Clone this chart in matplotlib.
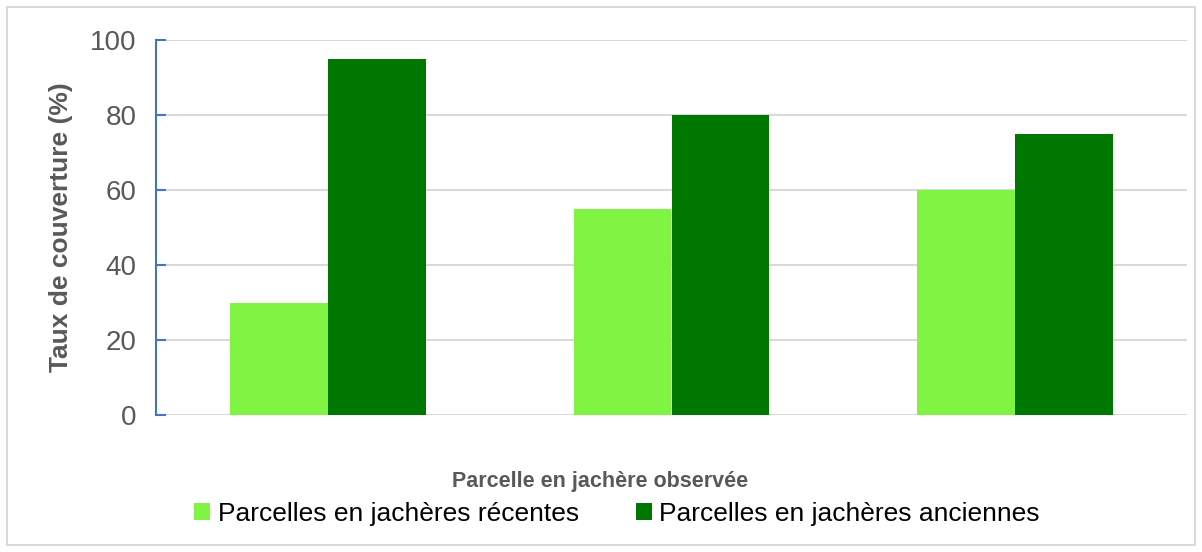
import numpy as np
import matplotlib
matplotlib.use('Agg')
import matplotlib.pyplot as plt
from matplotlib.patches import Rectangle

# data
groups = ['1', '2', '3']
recentes = [30, 55, 60]
anciennes = [95, 80, 75]
series_names = ['Parcelles en jachères récentes', 'Parcelles en jachères anciennes']
y_ticks = [0, 20, 40, 60, 80, 100]

light = '#80F442'
dark = '#007800'
grey_txt = '#595959'

plt.rcParams['font.family'] = ['Liberation Sans', 'DejaVu Sans']

fig = plt.figure(figsize=(12.02, 5.52), dpi=100)
ax = fig.add_axes([156/1202, 1 - 415/552, (1187-156)/1202, (415-40)/552])

x = np.arange(len(groups))
w = 0.285
ax.bar(x - w/2, recentes, w, color=light, label=series_names[0], zorder=3)
ax.bar(x + w/2, anciennes, w, color=dark, label=series_names[1], zorder=3)

ax.set_xlim(-0.5, len(groups) - 0.5)
ax.set_ylim(0, 100)
ax.set_yticks(y_ticks)
ax.set_xticks([])
ax.yaxis.grid(True, color='#D9D9D9', linewidth=1.5, zorder=0)
ax.set_axisbelow(True)
for s in ['top', 'right', 'bottom']:
    ax.spines[s].set_visible(False)
ax.spines['left'].set_color('#4472C4')
ax.spines['left'].set_linewidth(1.5)
ax.tick_params(axis='y', direction='in', length=7, width=1.5, color='#4472C4',
               labelsize=20, labelcolor=grey_txt, pad=14)

ax.set_ylabel('Taux de couverture (%)', fontsize=19, fontweight='bold', color=grey_txt, labelpad=12)
fig.text(600/1202, 1 - 481/552, 'Parcelle en jachère observée',
         ha='center', va='center', fontsize=15.5, fontweight='bold', color=grey_txt)

leg = fig.legend(loc='center', bbox_to_anchor=(617/1202, 1 - 514/552), ncol=2, frameon=False,
                 fontsize=19, handlelength=0.6, handleheight=0.6, handletextpad=0.3,
                 columnspacing=2.15, borderaxespad=0)

fig.patches.append(Rectangle((7/1202, 7/552), 1 - 14/1202, 1 - 14/552, transform=fig.transFigure,
                             fill=False, edgecolor='#D9D9D9', linewidth=1.5))

fig.savefig('out.png', dpi=100)
